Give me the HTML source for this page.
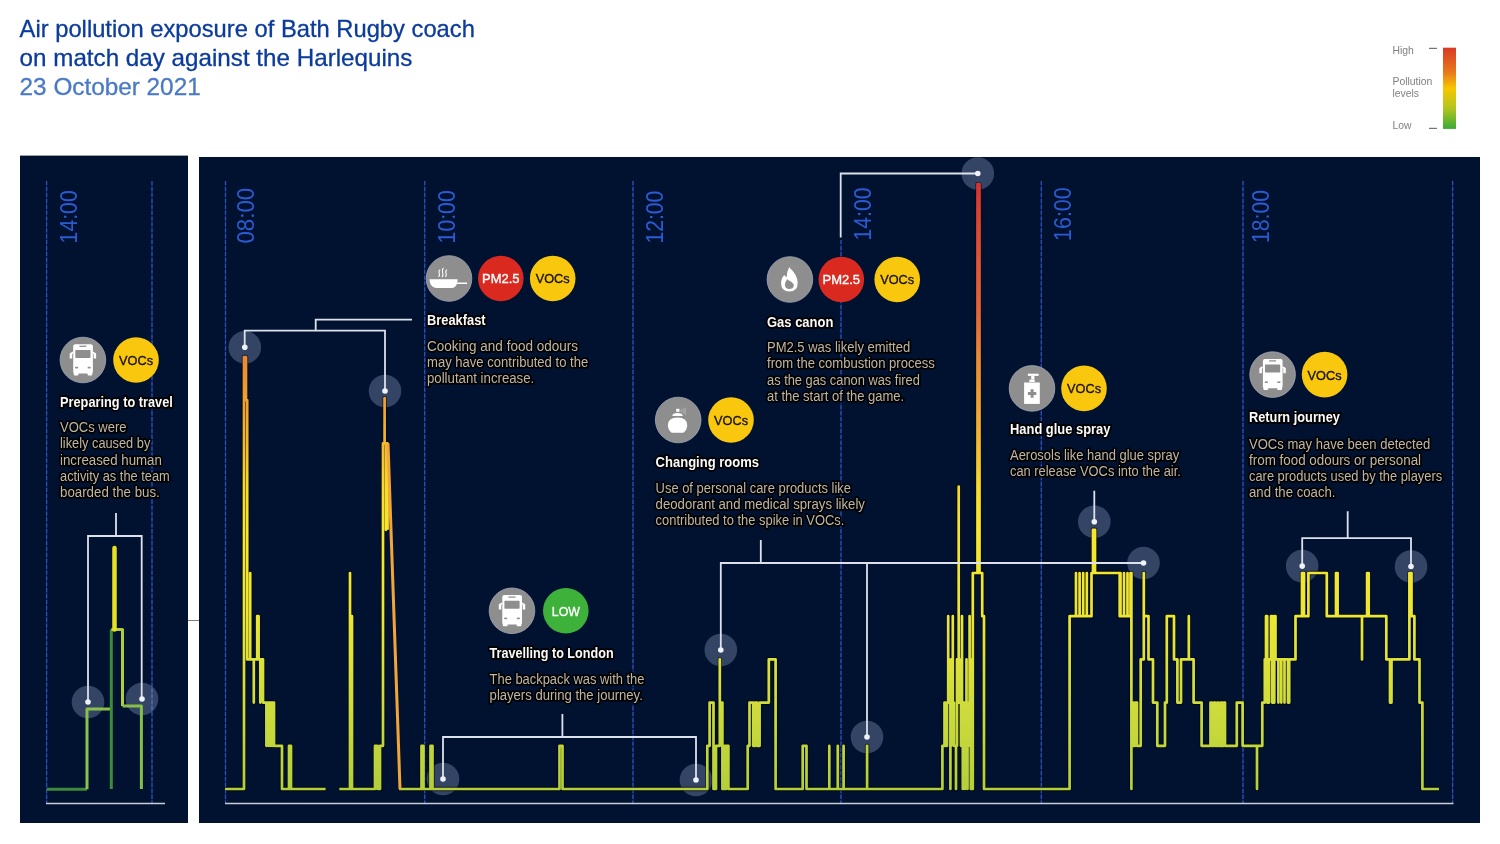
<!DOCTYPE html>
<html><head><meta charset="utf-8">
<style>
html,body{margin:0;padding:0;background:#fff;width:1500px;height:844px;overflow:hidden}
svg{position:absolute;left:0;top:0;will-change:transform}
text{font-family:"Liberation Sans",sans-serif}
.desc{fill:#bfb5a3;font-size:13px}
.ttl{fill:#fafafa;font-size:12.8px;font-weight:bold}
.tm{fill:#2b5bd2;font-size:21.5px}
.sh{paint-order:stroke;stroke:#000000;stroke-width:3.5px;stroke-linejoin:round;stroke-opacity:0.9}
</style></head><body>
<svg width="1500" height="844" viewBox="0 0 1500 844">

<defs>
<linearGradient id="lvl" gradientUnits="userSpaceOnUse" x1="0" y1="789" x2="0" y2="184">
<stop offset="0" stop-color="#b4cf3a"/>
<stop offset="0.142" stop-color="#cfdc3c"/>
<stop offset="0.286" stop-color="#ece634"/>
<stop offset="0.428" stop-color="#f8e52e"/>
<stop offset="0.499" stop-color="#f8da2c"/>
<stop offset="0.572" stop-color="#f4b830"/>
<stop offset="0.643" stop-color="#f0a030"/>
<stop offset="0.714" stop-color="#ea8a34"/>
<stop offset="0.785" stop-color="#e46638"/>
<stop offset="0.873" stop-color="#e05438"/>
<stop offset="0.94" stop-color="#dc4434"/>
<stop offset="1" stop-color="#d83232"/>
</linearGradient>
<linearGradient id="legend" x1="0" y1="0" x2="0" y2="1">
<stop offset="0" stop-color="#d83a26"/>
<stop offset="0.3" stop-color="#e8771a"/>
<stop offset="0.5" stop-color="#f7c700"/>
<stop offset="0.75" stop-color="#b0c420"/>
<stop offset="1" stop-color="#3aab35"/>
</linearGradient>
</defs>
<text class="" x="19.6" y="37.2" textLength="455.3" lengthAdjust="spacingAndGlyphs" font-size="23.6" fill="#0b3b9c" stroke="#0b3b9c" stroke-width="0.3">Air pollution exposure of Bath Rugby coach</text>
<text class="" x="19.6" y="65.6" textLength="392.8" lengthAdjust="spacingAndGlyphs" font-size="23.6" fill="#0b3b9c" stroke="#0b3b9c" stroke-width="0.3">on match day against the Harlequins</text>
<text class="" x="19.6" y="94.8" textLength="181.1" lengthAdjust="spacingAndGlyphs" font-size="23.6" fill="#4a79c6" stroke="#4a79c6" stroke-width="0.3">23 October 2021</text>
<g fill="#808080" font-size="10.4">
<text x="1392.5" y="54.4">High</text>
<text x="1392.5" y="85">Pollution</text>
<text x="1392.5" y="97.4">levels</text>
<text x="1392.5" y="128.9">Low</text>
</g>
<rect x="1429" y="47.8" width="8" height="1.1" fill="#666"/>
<rect x="1429" y="127.8" width="8" height="1.1" fill="#666"/>
<rect x="1443" y="47.7" width="13" height="81.2" fill="url(#legend)"/>
<rect x="20" y="155.6" width="168" height="667.4" fill="#001230"/>
<rect x="199" y="157" width="1281" height="666" fill="#001230"/>
<line x1="188" y1="620.5" x2="199" y2="620.5" stroke="#7a7f8a" stroke-width="1"/>
<g stroke="#08207e" stroke-width="1.2"><line x1="46.6" y1="181" x2="46.6" y2="803"/><line x1="152" y1="181" x2="152" y2="803"/><line x1="225.5" y1="181" x2="225.5" y2="803"/><line x1="424.7" y1="181" x2="424.7" y2="803"/><line x1="633" y1="181" x2="633" y2="803"/><line x1="841" y1="240" x2="841" y2="803"/><line x1="1041.3" y1="181" x2="1041.3" y2="803"/><line x1="1243" y1="181" x2="1243" y2="803"/><line x1="1452.6" y1="181" x2="1452.6" y2="803"/></g>
<g stroke="#3152ad" stroke-width="1.25" stroke-dasharray="4.3 1.6"><line x1="46.6" y1="181" x2="46.6" y2="803"/><line x1="152" y1="181" x2="152" y2="803"/><line x1="225.5" y1="181" x2="225.5" y2="803"/><line x1="424.7" y1="181" x2="424.7" y2="803"/><line x1="633" y1="181" x2="633" y2="803"/><line x1="841" y1="240" x2="841" y2="803"/><line x1="1041.3" y1="181" x2="1041.3" y2="803"/><line x1="1243" y1="181" x2="1243" y2="803"/><line x1="1452.6" y1="181" x2="1452.6" y2="803"/></g>
<line x1="46" y1="803.6" x2="165" y2="803.6" stroke="#c8ccd8" stroke-width="1.5"/>
<line x1="225" y1="803.6" x2="1453.5" y2="803.6" stroke="#c8ccd8" stroke-width="1.5"/>
<g class="tm">
<text transform="translate(253.6,243.6) rotate(-90) scale(1,1.1)" textLength="55.8" lengthAdjust="spacingAndGlyphs">08:00</text>
<text transform="translate(454.5,243.4) rotate(-90) scale(1,1.1)" textLength="53.1" lengthAdjust="spacingAndGlyphs">10:00</text>
<text transform="translate(662.5,243.4) rotate(-90) scale(1,1.1)" textLength="52.7" lengthAdjust="spacingAndGlyphs">12:00</text>
<text transform="translate(871.0,240.5) rotate(-90) scale(1,1.1)" textLength="53.0" lengthAdjust="spacingAndGlyphs">14:00</text>
<text transform="translate(1071.1,240.9) rotate(-90) scale(1,1.1)" textLength="53.5" lengthAdjust="spacingAndGlyphs">16:00</text>
<text transform="translate(1269.1,243.0) rotate(-90) scale(1,1.1)" textLength="53.1" lengthAdjust="spacingAndGlyphs">18:00</text>
<text transform="translate(76.6,243.4) rotate(-90) scale(1,1.1)" textLength="53.1" lengthAdjust="spacingAndGlyphs">14:00</text>
</g>
<circle cx="88" cy="702" r="16.3" fill="#a9b9e0" fill-opacity="0.3"/>
<circle cx="142" cy="699" r="16.3" fill="#a9b9e0" fill-opacity="0.3"/>
<circle cx="244.8" cy="347.3" r="16.3" fill="#a9b9e0" fill-opacity="0.3"/>
<circle cx="385" cy="391" r="16.3" fill="#a9b9e0" fill-opacity="0.3"/>
<circle cx="443" cy="779" r="16.3" fill="#a9b9e0" fill-opacity="0.3"/>
<circle cx="696" cy="780" r="16.3" fill="#a9b9e0" fill-opacity="0.3"/>
<circle cx="720.8" cy="650" r="16.3" fill="#a9b9e0" fill-opacity="0.3"/>
<circle cx="867" cy="737" r="16.3" fill="#a9b9e0" fill-opacity="0.3"/>
<circle cx="1143.5" cy="563" r="16.3" fill="#a9b9e0" fill-opacity="0.3"/>
<circle cx="1094.3" cy="521.7" r="16.3" fill="#a9b9e0" fill-opacity="0.3"/>
<circle cx="977.8" cy="173.5" r="16.3" fill="#a9b9e0" fill-opacity="0.3"/>
<circle cx="1302.2" cy="566.1" r="16.3" fill="#a9b9e0" fill-opacity="0.3"/>
<circle cx="1411" cy="566.5" r="16.3" fill="#a9b9e0" fill-opacity="0.3"/>
<path d="M225,789 H244 V357.0 H246 V400.2 H247.2 V573.0 V659.4 H250.2 V573.0 V659.4 H253.8 V702.6 V659.4 H257.2 V616.2 H258.6 V659.4 H260.3 V702.6 V659.4 H263 V702.6 H266.4 V745.8 V702.6 H268.5 V745.8 V702.6 H270.5 V745.8 V702.6 H272.5 V745.8 V702.6 H274 V745.8 H282 V789.0 H289 V745.8 H291 V789.0 H325.6 M339.3,789 H350 V573.0 V616.2 H352 V789.0 H375 V745.8 H377.5 V789.0 H380 V745.8 H383 V443.4 H384.6 V398.0 V443.4 H386 V529.8 V443.4 H387.5 V529.8 M399,789 H421.5 V745.8 H423.5 V789.0 H430.5 V745.8 H432.5 V789.0 H559.5 V745.8 H562.5 V789.0 H707.3 V745.8 H709.6 V702.6 H713.5 V789.0 H716 V745.8 H719.8 V659.4 V702.6 H722.4 V789.0 H724.5 V745.8 H726 V789.0 V745.8 H728.4 V789.0 H747.7 V745.8 H749.5 V702.6 H753.2 V745.8 H755 V702.6 H757 V745.8 H759.6 V702.6 H768.8 V659.4 H775.6 V789.0 H802.7 V745.8 H806.5 V789.0 H829.3 V745.8 V789.0 H837.8 V745.8 V789.0 H843.6 V745.8 V789.0 H867.1 V745.8 V789.0 H942.4 V745.8 H944.5 V702.6 H945.7 V745.8 H947 V702.6 H948.2 V616.2 V659.4 H949.4 V702.6 H950.4 V789.0 V745.8 H951.4 V659.4 V702.6 H952.8 V616.2 V702.6 H954 V745.8 H956 V789.0 V745.8 H957 V659.4 V702.6 H958.7 V486.6 V702.6 H960 V659.4 V702.6 H961 V745.8 H962 V616.2 V745.8 H962.8 V789.0 V745.8 H964 V702.6 H965 V789.0 V745.8 H966.5 V659.4 V702.6 H967.5 V789.0 V745.8 H968.6 V702.6 H969.6 V616.2 V659.4 H970.8 V789.0 V702.6 H971.8 V659.4 V745.8 H972.6 V789.0 H972.8 V573.0 H977.5 V184.2 H979.5 V573.0 H982.2 V616.2 H984 V789.0 H1069.6 V616.2 H1076 V573.0 V616.2 H1079.6 V573.0 V616.2 H1083.2 V573.0 V616.2 H1086.8 V573.0 V616.2 H1088.5 V616.2 H1091.5 V573.0 H1093 V529.8 H1095 V573.0 H1119.7 V616.2 H1120.5 V573.0 V616.2 H1124 V573.0 V616.2 H1127.5 V573.0 V616.2 H1130.5 V573.0 H1131.4 V789.0 V702.6 H1133 V745.8 H1135 V702.6 H1137 V745.8 H1140.7 V659.4 H1143.8 V573.0 V616.2 H1148.5 V659.4 H1153 V702.6 H1157.3 V745.8 H1165 V702.6 H1166.8 V616.2 H1174 V659.4 H1177.4 V702.6 H1181 V659.4 H1188.8 V616.2 V659.4 H1193.6 V702.6 H1201.6 V745.8 H1210.5 V702.6 H1211.7 V745.8 H1214 V702.6 H1215.2 V745.8 H1217.5 V702.6 H1218.7 V745.8 H1221 V702.6 H1222 V745.8 H1223.8 V702.6 H1225 V745.8 H1236.8 V702.6 H1242.6 V745.8 H1257 V789.0 V745.8 H1262.3 V702.6 H1264.8 V659.4 H1266 V616.2 H1267.2 V702.6 H1269 V659.4 H1271 V616.2 H1272.2 V702.6 H1274.3 V616.2 H1275.5 V659.4 H1278.4 V702.6 V659.4 H1281.3 V702.6 V659.4 H1284.5 V702.6 V659.4 H1288 V702.6 H1289.2 V659.4 H1295.5 V616.2 H1302 V573.0 H1304 V616.2 H1308.4 V573.0 H1326.8 V616.2 H1336 V573.0 H1337.6 V616.2 H1362 V659.4 V616.2 H1367.1 V573.0 H1368.7 V616.2 H1386.3 V659.4 H1390 V702.6 H1391.5 V659.4 H1409.4 V573.0 H1411.5 V616.2 H1414.4 V659.4 H1419.5 V702.6 H1422.4 V789.0 H1439" fill="none" stroke="#000000" stroke-opacity="0.55" stroke-width="4.4" stroke-linejoin="round"/>
<path d="M225,789 H244 V357.0 H246 V400.2 H247.2 V573.0 V659.4 H250.2 V573.0 V659.4 H253.8 V702.6 V659.4 H257.2 V616.2 H258.6 V659.4 H260.3 V702.6 V659.4 H263 V702.6 H266.4 V745.8 V702.6 H268.5 V745.8 V702.6 H270.5 V745.8 V702.6 H272.5 V745.8 V702.6 H274 V745.8 H282 V789.0 H289 V745.8 H291 V789.0 H325.6 M339.3,789 H350 V573.0 V616.2 H352 V789.0 H375 V745.8 H377.5 V789.0 H380 V745.8 H383 V443.4 H384.6 V398.0 V443.4 H386 V529.8 V443.4 H387.5 V529.8 M399,789 H421.5 V745.8 H423.5 V789.0 H430.5 V745.8 H432.5 V789.0 H559.5 V745.8 H562.5 V789.0 H707.3 V745.8 H709.6 V702.6 H713.5 V789.0 H716 V745.8 H719.8 V659.4 V702.6 H722.4 V789.0 H724.5 V745.8 H726 V789.0 V745.8 H728.4 V789.0 H747.7 V745.8 H749.5 V702.6 H753.2 V745.8 H755 V702.6 H757 V745.8 H759.6 V702.6 H768.8 V659.4 H775.6 V789.0 H802.7 V745.8 H806.5 V789.0 H829.3 V745.8 V789.0 H837.8 V745.8 V789.0 H843.6 V745.8 V789.0 H867.1 V745.8 V789.0 H942.4 V745.8 H944.5 V702.6 H945.7 V745.8 H947 V702.6 H948.2 V616.2 V659.4 H949.4 V702.6 H950.4 V789.0 V745.8 H951.4 V659.4 V702.6 H952.8 V616.2 V702.6 H954 V745.8 H956 V789.0 V745.8 H957 V659.4 V702.6 H958.7 V486.6 V702.6 H960 V659.4 V702.6 H961 V745.8 H962 V616.2 V745.8 H962.8 V789.0 V745.8 H964 V702.6 H965 V789.0 V745.8 H966.5 V659.4 V702.6 H967.5 V789.0 V745.8 H968.6 V702.6 H969.6 V616.2 V659.4 H970.8 V789.0 V702.6 H971.8 V659.4 V745.8 H972.6 V789.0 H972.8 V573.0 H977.5 V184.2 H979.5 V573.0 H982.2 V616.2 H984 V789.0 H1069.6 V616.2 H1076 V573.0 V616.2 H1079.6 V573.0 V616.2 H1083.2 V573.0 V616.2 H1086.8 V573.0 V616.2 H1088.5 V616.2 H1091.5 V573.0 H1093 V529.8 H1095 V573.0 H1119.7 V616.2 H1120.5 V573.0 V616.2 H1124 V573.0 V616.2 H1127.5 V573.0 V616.2 H1130.5 V573.0 H1131.4 V789.0 V702.6 H1133 V745.8 H1135 V702.6 H1137 V745.8 H1140.7 V659.4 H1143.8 V573.0 V616.2 H1148.5 V659.4 H1153 V702.6 H1157.3 V745.8 H1165 V702.6 H1166.8 V616.2 H1174 V659.4 H1177.4 V702.6 H1181 V659.4 H1188.8 V616.2 V659.4 H1193.6 V702.6 H1201.6 V745.8 H1210.5 V702.6 H1211.7 V745.8 H1214 V702.6 H1215.2 V745.8 H1217.5 V702.6 H1218.7 V745.8 H1221 V702.6 H1222 V745.8 H1223.8 V702.6 H1225 V745.8 H1236.8 V702.6 H1242.6 V745.8 H1257 V789.0 V745.8 H1262.3 V702.6 H1264.8 V659.4 H1266 V616.2 H1267.2 V702.6 H1269 V659.4 H1271 V616.2 H1272.2 V702.6 H1274.3 V616.2 H1275.5 V659.4 H1278.4 V702.6 V659.4 H1281.3 V702.6 V659.4 H1284.5 V702.6 V659.4 H1288 V702.6 H1289.2 V659.4 H1295.5 V616.2 H1302 V573.0 H1304 V616.2 H1308.4 V573.0 H1326.8 V616.2 H1336 V573.0 H1337.6 V616.2 H1362 V659.4 V616.2 H1367.1 V573.0 H1368.7 V616.2 H1386.3 V659.4 H1390 V702.6 H1391.5 V659.4 H1409.4 V573.0 H1411.5 V616.2 H1414.4 V659.4 H1419.5 V702.6 H1422.4 V789.0 H1439" fill="none" stroke="url(#lvl)" stroke-width="2.7" stroke-linejoin="round"/>
<path d="M388,443.4 L400,789" stroke="#f2a63a" stroke-width="3" fill="none"/>
<g fill="none" stroke-width="3" stroke-linejoin="round">
<path d="M47,789.3 H87" stroke="#3d8a3a"/>
<path d="M87,789.3 V709 H110.4" stroke="#8dc04a"/>
<path d="M111.3,789 V629.5" stroke="#3d8a3a"/>
<path d="M111.3,629.5 H122.5 V706" stroke="#b0cc40"/>
<path d="M122.5,706 H141.4 V789" stroke="#86bf48"/>
<path d="M114.5,629.5 V548" stroke="#e8e020" stroke-width="4.5" stroke-linecap="round"/>
</g>
<g fill="none" stroke="#dde1ec" stroke-width="1.8">
<path d="M116,513 V536 M88,702 V536 H141.7 V699"/>
<path d="M412,319.7 H315.7 V330.7 M244.7,347.4 V330.7 H385 V391"/>
<path d="M562.4,714 V737 M443,779 V737 H696 V780"/>
<path d="M760.8,540 V563 M720.8,650 V563 H1143.5 M867,563 V737"/>
<path d="M1094.3,490.7 V521.7"/>
<path d="M840.7,237.4 V173.5 H977.8"/>
<path d="M1347.7,511.2 V538.2 M1302.2,566.1 V538.2 H1411 V566.5"/>
</g>
<circle cx="88" cy="702" r="2.8" fill="#eef2fa"/>
<circle cx="142" cy="699" r="2.8" fill="#eef2fa"/>
<circle cx="244.8" cy="347.3" r="2.8" fill="#eef2fa"/>
<circle cx="385" cy="391" r="2.8" fill="#eef2fa"/>
<circle cx="443" cy="779" r="2.8" fill="#eef2fa"/>
<circle cx="696" cy="780" r="2.8" fill="#eef2fa"/>
<circle cx="720.8" cy="650" r="2.8" fill="#eef2fa"/>
<circle cx="867" cy="737" r="2.8" fill="#eef2fa"/>
<circle cx="1143.5" cy="563" r="2.8" fill="#eef2fa"/>
<circle cx="1094.3" cy="521.7" r="2.8" fill="#eef2fa"/>
<circle cx="977.8" cy="173.5" r="2.8" fill="#eef2fa"/>
<circle cx="1302.2" cy="566.1" r="2.8" fill="#eef2fa"/>
<circle cx="1411" cy="566.5" r="2.8" fill="#eef2fa"/>
<g transform="translate(59.900000000000006,337)">
<circle cx="23" cy="23" r="22.8" fill="#8e8e8e" stroke="#a3a7b5" stroke-width="0.8"/>
<rect x="13.3" y="7.3" width="19.7" height="29.3" rx="2" fill="#fff"/>
<rect x="19.5" y="8.6" width="7" height="1.4" fill="#9a9a9a"/>
<rect x="15.4" y="13" width="15.2" height="8" rx="0.8" fill="#8e8e8e"/>
<path d="M12.8,14.6 L9.8,16.5 V21.6 H12.3 V17 L13.3,16.4 Z M33.2,14.6 L36.2,16.5 V21.6 H33.7 V17 L32.7,16.4 Z" fill="#fff"/>
<rect x="15.2" y="29.8" width="3" height="1.6" fill="#8e8e8e"/>
<rect x="27.8" y="29.8" width="3" height="1.6" fill="#8e8e8e"/>
<rect x="13.8" y="35" width="4.8" height="3.4" rx="0.8" fill="#fff"/>
<rect x="27.6" y="35" width="4.8" height="3.4" rx="0.8" fill="#fff"/>
</g>
<circle cx="136" cy="360" r="22.8" fill="#f9c80e"/><text x="136" y="364.9" text-anchor="middle" font-size="13" fill="#1a1408" stroke="#1a1408" stroke-width="0.35" textLength="34" lengthAdjust="spacingAndGlyphs">VOCs</text>
<g transform="translate(426,255.5)">
<circle cx="23" cy="23" r="22.8" fill="#8e8e8e" stroke="#a3a7b5" stroke-width="0.8"/>
<path d="M3.5,23.7 H31.6 C31.6,28.5 29.5,32.5 26,32.5 H10.5 C6.5,32.5 3.5,28.5 3.5,23.7 Z" fill="#fff"/>
<rect x="31" y="27" width="10.2" height="1.6" rx="0.6" fill="#fff"/>
<g fill="none" stroke="#fff" stroke-width="1.1" stroke-linecap="round">
<path d="M13.8,14.5 Q12.2,16 13.2,17.8 Q14.2,19.6 12.8,21"/>
<path d="M17.2,12.8 Q15.6,14.8 16.6,17 Q17.6,19.2 16.2,21.3"/>
<path d="M20.6,14.5 Q19,16 20,17.8 Q21,19.6 19.6,21"/>
</g>
</g>
<circle cx="500.8" cy="278.5" r="22.8" fill="#da291f"/><text x="500.8" y="283.4" text-anchor="middle" font-size="13" fill="#fff" stroke="#fff" stroke-width="0.35" textLength="37.5" lengthAdjust="spacingAndGlyphs">PM2.5</text>
<circle cx="552.7" cy="278.5" r="22.8" fill="#f9c80e"/><text x="552.7" y="283.4" text-anchor="middle" font-size="13" fill="#1a1408" stroke="#1a1408" stroke-width="0.35" textLength="34" lengthAdjust="spacingAndGlyphs">VOCs</text>
<g transform="translate(766.9,256.5)">
<circle cx="23" cy="23" r="22.8" fill="#8e8e8e" stroke="#a3a7b5" stroke-width="0.8"/>
<path d="M22.3,10.8 Q30.8,18.5 30.8,26.5 Q30.8,35 22.5,35 Q14.2,35 14.2,26.8 Q14.2,21.5 17.4,18.4 Q18,20 19.8,20.6 Q19.6,15.5 22.3,10.8 Z" fill="#fff"/>
<path d="M20.1,22.6 C22,24.5 26.9,26 26.9,29 C26.9,31.2 25,32.6 22.5,32.6 C20,32.6 18,31 18,28.5 C18,26 19.6,24.6 20.1,22.6 Z" fill="#8e8e8e"/>
</g>
<circle cx="841.3" cy="279.5" r="22.8" fill="#da291f"/><text x="841.3" y="284.4" text-anchor="middle" font-size="13" fill="#fff" stroke="#fff" stroke-width="0.35" textLength="37.5" lengthAdjust="spacingAndGlyphs">PM2.5</text>
<circle cx="897.2" cy="279.5" r="22.8" fill="#f9c80e"/><text x="897.2" y="284.4" text-anchor="middle" font-size="13" fill="#1a1408" stroke="#1a1408" stroke-width="0.35" textLength="34" lengthAdjust="spacingAndGlyphs">VOCs</text>
<g transform="translate(655.2,397)">
<circle cx="23" cy="23" r="22.8" fill="#8e8e8e" stroke="#a3a7b5" stroke-width="0.8"/>
<path d="M16.5,35.8 Q12.7,32.8 12.7,28.2 Q12.7,20.4 22.4,20.4 Q32,20.4 32,28.2 Q32,32.8 28.2,35.8 Z" fill="#fff"/>
<path d="M17.1,19 Q17.1,15.9 22.3,15.9 Q27.5,15.9 27.5,19 Z" fill="#fff"/>
<rect x="21" y="11.8" width="3.2" height="3" fill="#fff"/>
<g stroke="#fff" stroke-opacity="0.4" stroke-width="0.9"><line x1="26" y1="12.5" x2="26" y2="15"/><line x1="28" y1="11.5" x2="28" y2="16.5"/><line x1="30" y1="10.5" x2="30" y2="18"/></g>
</g>
<circle cx="731" cy="420" r="22.8" fill="#f9c80e"/><text x="731" y="424.9" text-anchor="middle" font-size="13" fill="#1a1408" stroke="#1a1408" stroke-width="0.35" textLength="34" lengthAdjust="spacingAndGlyphs">VOCs</text>
<g transform="translate(1009,365.4)">
<circle cx="23" cy="23" r="22.8" fill="#8e8e8e" stroke="#a3a7b5" stroke-width="0.8"/>
<rect x="18.9" y="8.3" width="10.7" height="2.2" fill="#fff"/>
<rect x="22.2" y="10.5" width="3.2" height="3.6" fill="#fff"/>
<rect x="20.4" y="14.2" width="5.3" height="2.4" fill="#fff"/>
<rect x="15.1" y="17.1" width="15.7" height="21.4" fill="#fff"/>
<path d="M21.6,23.8 H24.6 V26.6 H27.3 V29.6 H24.6 V32.4 H21.6 V29.6 H18.9 V26.6 H21.6 Z" fill="#8e8e8e"/>
</g>
<circle cx="1084" cy="388.4" r="22.8" fill="#f9c80e"/><text x="1084" y="393.29999999999995" text-anchor="middle" font-size="13" fill="#1a1408" stroke="#1a1408" stroke-width="0.35" textLength="34" lengthAdjust="spacingAndGlyphs">VOCs</text>
<g transform="translate(1249.6,351.6)">
<circle cx="23" cy="23" r="22.8" fill="#8e8e8e" stroke="#a3a7b5" stroke-width="0.8"/>
<rect x="13.3" y="7.3" width="19.7" height="29.3" rx="2" fill="#fff"/>
<rect x="19.5" y="8.6" width="7" height="1.4" fill="#9a9a9a"/>
<rect x="15.4" y="13" width="15.2" height="8" rx="0.8" fill="#8e8e8e"/>
<path d="M12.8,14.6 L9.8,16.5 V21.6 H12.3 V17 L13.3,16.4 Z M33.2,14.6 L36.2,16.5 V21.6 H33.7 V17 L32.7,16.4 Z" fill="#fff"/>
<rect x="15.2" y="29.8" width="3" height="1.6" fill="#8e8e8e"/>
<rect x="27.8" y="29.8" width="3" height="1.6" fill="#8e8e8e"/>
<rect x="13.8" y="35" width="4.8" height="3.4" rx="0.8" fill="#fff"/>
<rect x="27.6" y="35" width="4.8" height="3.4" rx="0.8" fill="#fff"/>
</g>
<circle cx="1324.6" cy="374.6" r="22.8" fill="#f9c80e"/><text x="1324.6" y="379.5" text-anchor="middle" font-size="13" fill="#1a1408" stroke="#1a1408" stroke-width="0.35" textLength="34" lengthAdjust="spacingAndGlyphs">VOCs</text>
<g transform="translate(489,587.8)">
<circle cx="23" cy="23" r="22.8" fill="#8e8e8e" stroke="#a3a7b5" stroke-width="0.8"/>
<rect x="13.3" y="7.3" width="19.7" height="29.3" rx="2" fill="#fff"/>
<rect x="19.5" y="8.6" width="7" height="1.4" fill="#9a9a9a"/>
<rect x="15.4" y="13" width="15.2" height="8" rx="0.8" fill="#8e8e8e"/>
<path d="M12.8,14.6 L9.8,16.5 V21.6 H12.3 V17 L13.3,16.4 Z M33.2,14.6 L36.2,16.5 V21.6 H33.7 V17 L32.7,16.4 Z" fill="#fff"/>
<rect x="15.2" y="29.8" width="3" height="1.6" fill="#8e8e8e"/>
<rect x="27.8" y="29.8" width="3" height="1.6" fill="#8e8e8e"/>
<rect x="13.8" y="35" width="4.8" height="3.4" rx="0.8" fill="#fff"/>
<rect x="27.6" y="35" width="4.8" height="3.4" rx="0.8" fill="#fff"/>
</g>
<circle cx="565.8" cy="610.8" r="22.8" fill="#3eb13a"/><text x="565.8" y="615.6999999999999" text-anchor="middle" font-size="12.5" fill="#fff" stroke="#fff" stroke-width="0.35" textLength="28" lengthAdjust="spacingAndGlyphs">LOW</text><text class="ttl sh" transform="translate(60,407.1) scale(1,1.13)" x="0" y="0" textLength="112.8" lengthAdjust="spacingAndGlyphs" >Preparing to travel</text>
<text class="desc sh" transform="translate(60,432.1) scale(1,1.06)" x="0" y="0" textLength="66.5" lengthAdjust="spacingAndGlyphs" >VOCs were</text>
<text class="desc sh" transform="translate(60,448.3) scale(1,1.06)" x="0" y="0" textLength="90.3" lengthAdjust="spacingAndGlyphs" >likely caused by</text>
<text class="desc sh" transform="translate(60,464.5) scale(1,1.06)" x="0" y="0" textLength="101.9" lengthAdjust="spacingAndGlyphs" >increased human</text>
<text class="desc sh" transform="translate(60,480.7) scale(1,1.06)" x="0" y="0" textLength="109.7" lengthAdjust="spacingAndGlyphs" >activity as the team</text>
<text class="desc sh" transform="translate(60,496.90000000000003) scale(1,1.06)" x="0" y="0" textLength="99.8" lengthAdjust="spacingAndGlyphs" >boarded the bus.</text>
<text class="ttl sh" transform="translate(427,325.3) scale(1,1.13)" x="0" y="0" textLength="58.6" lengthAdjust="spacingAndGlyphs" >Breakfast</text>
<text class="desc sh" transform="translate(427,350.90000000000003) scale(1,1.06)" x="0" y="0" textLength="151.0" lengthAdjust="spacingAndGlyphs" >Cooking and food odours</text>
<text class="desc sh" transform="translate(427,367.1) scale(1,1.06)" x="0" y="0" textLength="161.2" lengthAdjust="spacingAndGlyphs" >may have contributed to the</text>
<text class="desc sh" transform="translate(427,383.3) scale(1,1.06)" x="0" y="0" textLength="107.2" lengthAdjust="spacingAndGlyphs" >pollutant increase.</text>
<text class="ttl sh" transform="translate(767,326.5) scale(1,1.13)" x="0" y="0" textLength="66.4" lengthAdjust="spacingAndGlyphs" >Gas canon</text>
<text class="desc sh" transform="translate(767,352.2) scale(1,1.06)" x="0" y="0" textLength="143.2" lengthAdjust="spacingAndGlyphs" >PM2.5 was likely emitted</text>
<text class="desc sh" transform="translate(767,368.40000000000003) scale(1,1.06)" x="0" y="0" textLength="167.8" lengthAdjust="spacingAndGlyphs" >from the combustion process</text>
<text class="desc sh" transform="translate(767,384.90000000000003) scale(1,1.06)" x="0" y="0" textLength="152.8" lengthAdjust="spacingAndGlyphs" >as the gas canon was fired</text>
<text class="desc sh" transform="translate(767,401.2) scale(1,1.06)" x="0" y="0" textLength="137.2" lengthAdjust="spacingAndGlyphs" >at the start of the game.</text>
<text class="ttl sh" transform="translate(655.6,466.8) scale(1,1.13)" x="0" y="0" textLength="103.4" lengthAdjust="spacingAndGlyphs" >Changing rooms</text>
<text class="desc sh" transform="translate(655.6,493.0) scale(1,1.06)" x="0" y="0" textLength="195.4" lengthAdjust="spacingAndGlyphs" >Use of personal care products like</text>
<text class="desc sh" transform="translate(655.6,509.2) scale(1,1.06)" x="0" y="0" textLength="209.3" lengthAdjust="spacingAndGlyphs" >deodorant and medical sprays likely</text>
<text class="desc sh" transform="translate(655.6,525.4) scale(1,1.06)" x="0" y="0" textLength="188.8" lengthAdjust="spacingAndGlyphs" >contributed to the spike in VOCs.</text>
<text class="ttl sh" transform="translate(1010,433.9) scale(1,1.13)" x="0" y="0" textLength="100.4" lengthAdjust="spacingAndGlyphs" >Hand glue spray</text>
<text class="desc sh" transform="translate(1010,459.5) scale(1,1.06)" x="0" y="0" textLength="169.2" lengthAdjust="spacingAndGlyphs" >Aerosols like hand glue spray</text>
<text class="desc sh" transform="translate(1010,475.90000000000003) scale(1,1.06)" x="0" y="0" textLength="170.8" lengthAdjust="spacingAndGlyphs" >can release VOCs into the air.</text>
<text class="ttl sh" transform="translate(1249,422.1) scale(1,1.13)" x="0" y="0" textLength="90.9" lengthAdjust="spacingAndGlyphs" >Return journey</text>
<text class="desc sh" transform="translate(1249,448.7) scale(1,1.06)" x="0" y="0" textLength="181.2" lengthAdjust="spacingAndGlyphs" >VOCs may have been detected</text>
<text class="desc sh" transform="translate(1249,464.90000000000003) scale(1,1.06)" x="0" y="0" textLength="172.1" lengthAdjust="spacingAndGlyphs" >from food odours or personal</text>
<text class="desc sh" transform="translate(1249,481.1) scale(1,1.06)" x="0" y="0" textLength="193.2" lengthAdjust="spacingAndGlyphs" >care products used by the players</text>
<text class="desc sh" transform="translate(1249,497.3) scale(1,1.06)" x="0" y="0" textLength="86.5" lengthAdjust="spacingAndGlyphs" >and the coach.</text>
<text class="ttl sh" transform="translate(489.6,657.5) scale(1,1.13)" x="0" y="0" textLength="124.0" lengthAdjust="spacingAndGlyphs" >Travelling to London</text>
<text class="desc sh" transform="translate(489.6,683.5) scale(1,1.06)" x="0" y="0" textLength="154.8" lengthAdjust="spacingAndGlyphs" >The backpack was with the</text>
<text class="desc sh" transform="translate(489.6,699.6999999999999) scale(1,1.06)" x="0" y="0" textLength="153.2" lengthAdjust="spacingAndGlyphs" >players during the journey.</text>
</svg>
</body></html>
